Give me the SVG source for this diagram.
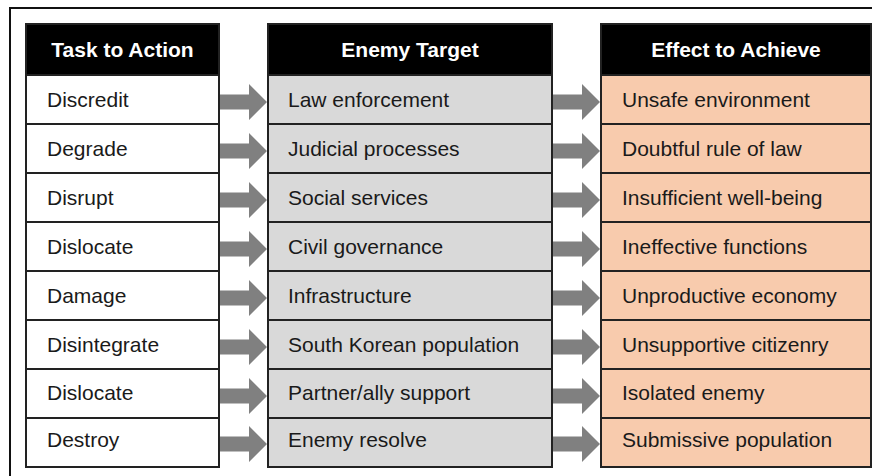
<svg xmlns="http://www.w3.org/2000/svg" width="872" height="476" viewBox="0 0 872 476">
<style>
.frame{fill:#fff;stroke:#111;stroke-width:2}
.hdr{fill:#000;stroke:#222;stroke-width:2}
.c1{fill:#fff;stroke:#222;stroke-width:2}
.c2{fill:#d9d9d9;stroke:#222;stroke-width:2}
.c3{fill:#f8cbad;stroke:#222;stroke-width:2}
.ht{font-family:"Liberation Sans",Arial,sans-serif;font-size:21px;font-weight:bold;fill:#fff;text-anchor:middle}
.bt{font-family:"Liberation Sans",Arial,sans-serif;font-size:21px;fill:#1a1a1a}
.arr{fill:#808080}
</style>
<defs>
<polygon id="ar1" class="arr" points="220,-7.5 249,-7.5 249,-18 267,0 249,18 249,7.5 220,7.5"/>
<polygon id="ar2" class="arr" points="553,-7.5 582,-7.5 582,-18 600,0 582,18 582,7.5 553,7.5"/>
</defs>
<rect class="frame" x="10" y="8" width="900" height="500"/>
<g id="connectors">
<use href="#ar1" y="102"/><use href="#ar1" y="151"/><use href="#ar1" y="200"/><use href="#ar1" y="249"/>
<use href="#ar1" y="298"/><use href="#ar1" y="347"/><use href="#ar1" y="396"/><use href="#ar1" y="444"/>
<use href="#ar2" y="102"/><use href="#ar2" y="151"/><use href="#ar2" y="200"/><use href="#ar2" y="249"/>
<use href="#ar2" y="298"/><use href="#ar2" y="347"/><use href="#ar2" y="396"/><use href="#ar2" y="444"/>
</g>
<g id="h1"><rect class="hdr" x="26" y="24" width="193" height="51"/><text class="ht" x="122.5" y="57">Task to Action</text></g>
<g id="h2"><rect class="hdr" x="268" y="24" width="284" height="51"/><text class="ht" x="410" y="57">Enemy Target</text></g>
<g id="h3"><rect class="hdr" x="601" y="24" width="270" height="51"/><text class="ht" x="736" y="57">Effect to Achieve</text></g>

<g id="a1"><rect class="c1" x="26" y="75" width="193" height="49"/><text class="bt" x="47" y="107">Discredit</text></g>
<g id="a2"><rect class="c1" x="26" y="124" width="193" height="49"/><text class="bt" x="47" y="156">Degrade</text></g>
<g id="a3"><rect class="c1" x="26" y="173" width="193" height="49"/><text class="bt" x="47" y="205">Disrupt</text></g>
<g id="a4"><rect class="c1" x="26" y="222" width="193" height="49"/><text class="bt" x="47" y="254">Dislocate</text></g>
<g id="a5"><rect class="c1" x="26" y="271" width="193" height="49"/><text class="bt" x="47" y="303">Damage</text></g>
<g id="a6"><rect class="c1" x="26" y="320" width="193" height="49"/><text class="bt" x="47" y="352">Disintegrate</text></g>
<g id="a7"><rect class="c1" x="26" y="369" width="193" height="49"/><text class="bt" x="47" y="400">Dislocate</text></g>
<g id="a8"><rect class="c1" x="26" y="418" width="193" height="49"/><text class="bt" x="47" y="447">Destroy</text></g>

<g id="b1"><rect class="c2" x="268" y="75" width="284" height="49"/><text class="bt" x="288" y="107">Law enforcement</text></g>
<g id="b2"><rect class="c2" x="268" y="124" width="284" height="49"/><text class="bt" x="288" y="156">Judicial processes</text></g>
<g id="b3"><rect class="c2" x="268" y="173" width="284" height="49"/><text class="bt" x="288" y="205">Social services</text></g>
<g id="b4"><rect class="c2" x="268" y="222" width="284" height="49"/><text class="bt" x="288" y="254">Civil governance</text></g>
<g id="b5"><rect class="c2" x="268" y="271" width="284" height="49"/><text class="bt" x="288" y="303">Infrastructure</text></g>
<g id="b6"><rect class="c2" x="268" y="320" width="284" height="49"/><text class="bt" x="288" y="352">South Korean population</text></g>
<g id="b7"><rect class="c2" x="268" y="369" width="284" height="49"/><text class="bt" x="288" y="400">Partner/ally support</text></g>
<g id="b8"><rect class="c2" x="268" y="418" width="284" height="49"/><text class="bt" x="288" y="447">Enemy resolve</text></g>

<g id="e1"><rect class="c3" x="601" y="75" width="270" height="49"/><text class="bt" x="622" y="107">Unsafe environment</text></g>
<g id="e2"><rect class="c3" x="601" y="124" width="270" height="49"/><text class="bt" x="622" y="156">Doubtful rule of law</text></g>
<g id="e3"><rect class="c3" x="601" y="173" width="270" height="49"/><text class="bt" x="622" y="205">Insufficient well-being</text></g>
<g id="e4"><rect class="c3" x="601" y="222" width="270" height="49"/><text class="bt" x="622" y="254">Ineffective functions</text></g>
<g id="e5"><rect class="c3" x="601" y="271" width="270" height="49"/><text class="bt" x="622" y="303">Unproductive economy</text></g>
<g id="e6"><rect class="c3" x="601" y="320" width="270" height="49"/><text class="bt" x="622" y="352">Unsupportive citizenry</text></g>
<g id="e7"><rect class="c3" x="601" y="369" width="270" height="49"/><text class="bt" x="622" y="400">Isolated enemy</text></g>
<g id="e8"><rect class="c3" x="601" y="418" width="270" height="49"/><text class="bt" x="622" y="447">Submissive population</text></g>
</svg>
